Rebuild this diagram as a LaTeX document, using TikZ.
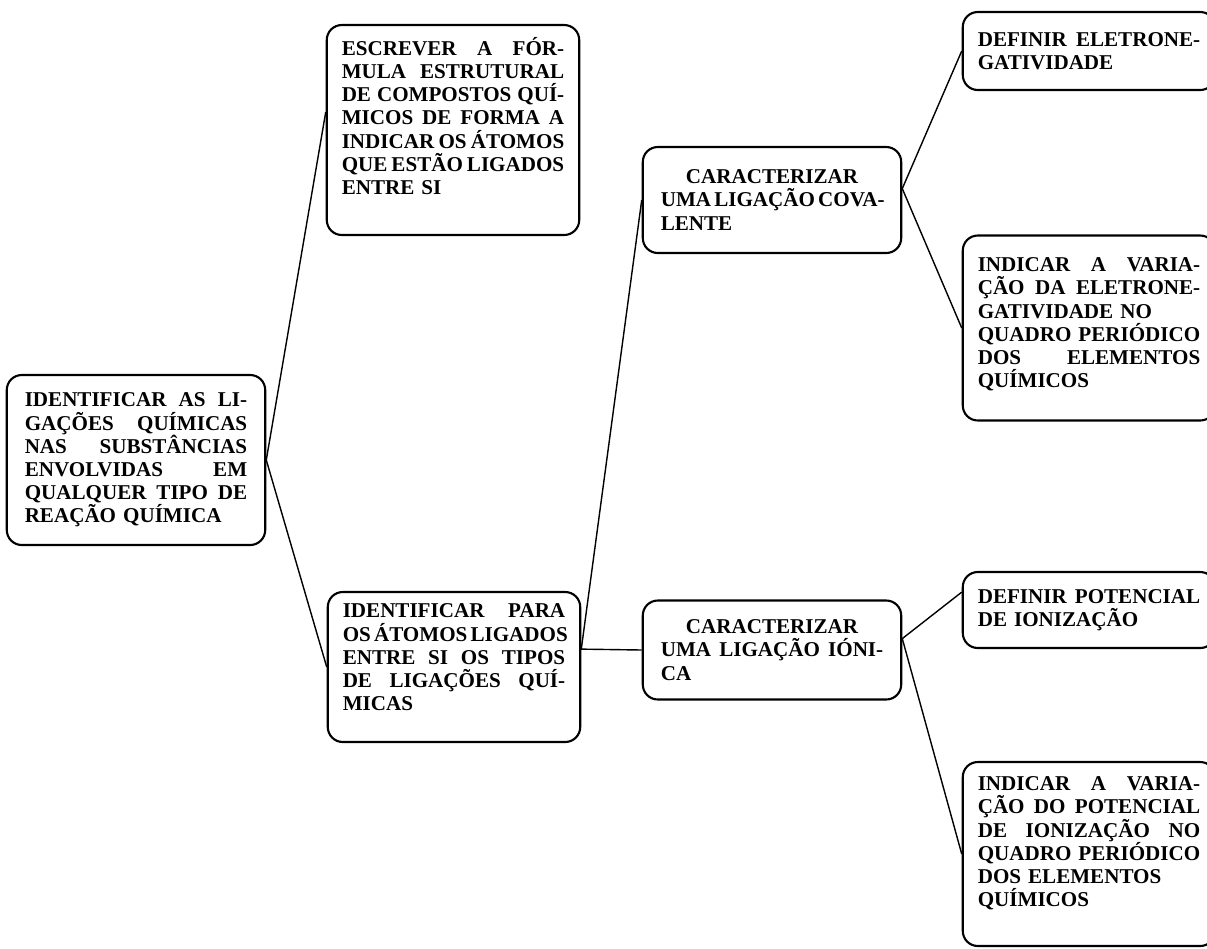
\documentclass[tikz,border=0pt]{standalone}
\usepackage{fontspec}
\setmainfont{Liberation Serif}
\usepackage{tikz}

\newcommand{\jline}[1]{\makebox[\linewidth][s]{\spaceskip=.25em plus 3em minus .1em\relax #1}}
\newcommand{\midline}[1]{\makebox[\linewidth][c]{#1}}
\newcommand{\padbot}[1]{\rule[-#1]{0pt}{#1}}

\begin{document}
\begin{tikzpicture}[x=0.02cm, y=-0.02cm,
  objbox/.style={rectangle, draw=black, line width=1.2pt, rounded corners=0.3cm, inner xsep=0.3cm, inner ysep=2pt, text width=4.45cm, align=left, font=\fontsize{12}{13.2}\selectfont\bfseries},
  liga/.style={draw=black, line width=0.8pt}]
\useasboundingbox (0,0) rectangle (1207,948);
\clip (0,0) rectangle (1207,948);

\node[objbox, minimum height=3.4cm, inner xsep=0.36cm] (geral) at (136,460) {\jline{IDENTIFICAR AS LI-}\\ \jline{GAÇÕES QUÍMICAS}\\ \jline{NAS SUBSTÂNCIAS}\\ \jline{ENVOLVIDAS EM}\\ \jline{QUALQUER TIPO DE}\\ REAÇÃO QUÍMICA};

\node[objbox, minimum height=4.2cm] (formula) at (453,130) {\jline{ESCREVER A FÓR-}\\ \jline{MULA ESTRUTURAL}\\ \jline{DE COMPOSTOS QUÍ-}\\ \jline{MICOS DE FORMA A}\\ \jline{INDICAR OS ÁTOMOS}\\ \jline{QUE ESTÃO LIGADOS}\\ ENTRE SI\padbot{16pt}};
\node[objbox, minimum height=3.0cm] (tipos) at (454,667) {\jline{IDENTIFICAR PARA}\\ \jline{OS ÁTOMOS LIGADOS}\\ \jline{ENTRE SI OS TIPOS}\\ \jline{DE LIGAÇÕES QUÍ-}\\ MICAS\padbot{11pt}};

\node[objbox, minimum height=2.12cm, inner xsep=0.36cm] (covalente) at (772,200) {\midline{CARACTERIZAR}\\ \jline{UMA LIGAÇÃO COVA-}\\ LENTE};
\node[objbox, minimum height=1.98cm, inner xsep=0.36cm] (ionica) at (772,650) {\midline{CARACTERIZAR}\\ \jline{UMA LIGAÇÃO IÓNI-}\\ CA};

\node[objbox, minimum height=1.56cm] (eletro) at (1089,51) {\jline{DEFINIR ELETRONE-}\\ GATIVIDADE};
\node[objbox, minimum height=3.7cm] (varele) at (1089,328) {\jline{INDICAR A VARIA-}\\ \jline{ÇÃO DA ELETRONE-}\\ GATIVIDADE NO\\ \jline{QUADRO PERIÓDICO}\\ \jline{DOS ELEMENTOS}\\ QUÍMICOS\padbot{6pt}};
\node[objbox, minimum height=1.52cm] (potencial) at (1089,610) {\jline{DEFINIR POTENCIAL}\\ DE IONIZAÇÃO};
\node[objbox, minimum height=3.68cm] (varpot) at (1089,854) {\jline{INDICAR A VARIA-}\\ \jline{ÇÃO DO POTENCIAL}\\ \jline{DE IONIZAÇÃO NO}\\ \jline{QUADRO PERIÓDICO}\\ DOS ELEMENTOS\\ QUÍMICOS\padbot{14pt}};

\draw[liga] (formula.172) -- (geral.east) -- (tipos.west);
\draw[liga] (covalente.west) -- (tipos.8) -- (ionica.west);
\draw[liga] (eletro.west) -- (covalente.5) -- (varele.west);
\draw[liga] (potencial.172) -- (ionica.5) -- (varpot.west);
\end{tikzpicture}
\end{document}
